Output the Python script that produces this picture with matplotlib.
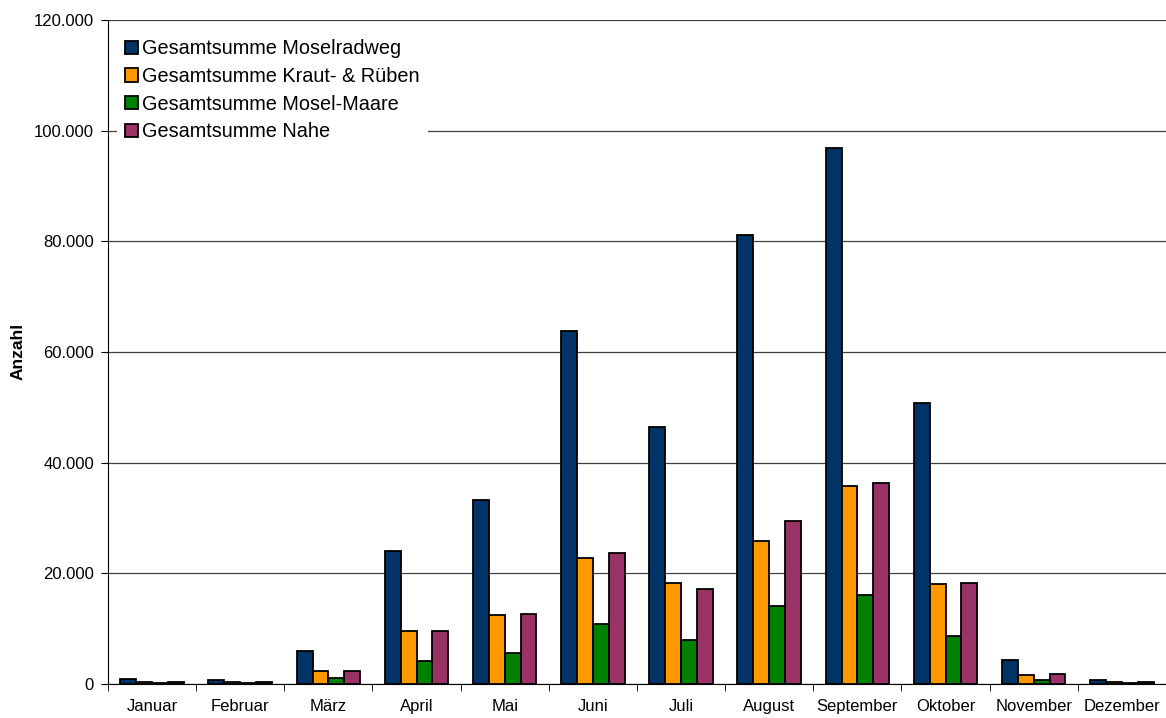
"""Monatliche Zählungen der Radwege als gruppiertes Säulendiagramm."""
import matplotlib
matplotlib.use("Agg")
import matplotlib.pyplot as plt
from matplotlib.ticker import FuncFormatter, FixedLocator
import numpy as np

MONTHS = ["Januar", "Februar", "März", "April", "Mai", "Juni", "Juli",
          "August", "September", "Oktober", "November", "Dezember"]

MOSELRADWEG = [900, 800, 5900, 24000, 33200, 63700, 46500, 81200, 96800, 50800, 4300, 800]
KRAUT_RUEBEN = [300, 300, 2400, 9500, 12400, 22700, 18300, 25800, 35700, 18000, 1600, 300]
MOSEL_MAARE = [150, 100, 1000, 4100, 5600, 10800, 7900, 14100, 16100, 8700, 700, 100]
NAHE = [300, 300, 2300, 9500, 12600, 23700, 17200, 29400, 36300, 18300, 1800, 300]

SERIES = [
    ("Gesamtsumme Moselradweg", MOSELRADWEG, "#003366"),
    ("Gesamtsumme Kraut- & Rüben", KRAUT_RUEBEN, "#FF9900"),
    ("Gesamtsumme Mosel-Maare", MOSEL_MAARE, "#008000"),
    ("Gesamtsumme Nahe", NAHE, "#993366"),
]

plt.rcParams["font.family"] = ["Liberation Sans", "DejaVu Sans"]

fig = plt.figure(figsize=(11.66, 7.18), dpi=100)
ax = fig.add_axes([0.0926, 0.0474, 0.9074, 0.9248])

x = np.arange(len(MONTHS))
width = 0.18
for i, (label, vals, color) in enumerate(SERIES):
    ax.bar(x + (i - 1.5) * width, vals, width, color=color, edgecolor="black",
           linewidth=1.3, label=label, zorder=3)

ax.set_xlim(-0.5, len(MONTHS) - 0.5)
ax.set_ylim(0, 120000)
ax.set_yticks(np.arange(0, 120001, 20000))
ax.yaxis.set_major_formatter(FuncFormatter(
    lambda v, _: f"{int(v):,}".replace(",", ".")))
ax.grid(axis="y", color="#404040", linewidth=0.9, zorder=0)

ax.set_xticks(x)
ax.set_xticklabels(MONTHS)
ax.tick_params(axis="x", which="major", length=0, pad=11, labelsize=12)
ax.xaxis.set_minor_locator(FixedLocator(np.arange(-0.5, len(MONTHS), 1)))
ax.tick_params(axis="x", which="minor", length=5, direction="out")
ax.tick_params(axis="y", length=5, pad=5, labelsize=12)

for side in ("top", "right"):
    ax.spines[side].set_visible(False)

fig.text(18 / 1166, 0.51, "Anzahl", rotation=90, ha="center", va="center",
         fontsize=12.5, fontweight="bold")

leg = ax.legend(loc="upper left", bbox_to_anchor=(0.0033, 0.992), fontsize=14.3,
                frameon=True, fancybox=False, edgecolor="none", framealpha=1,
                handlelength=0.65, handleheight=0.65, handletextpad=0.2,
                labelspacing=0.44, borderpad=0.4, borderaxespad=0.3)
leg.set_zorder(5)

fig.savefig("out.png", dpi=100)
